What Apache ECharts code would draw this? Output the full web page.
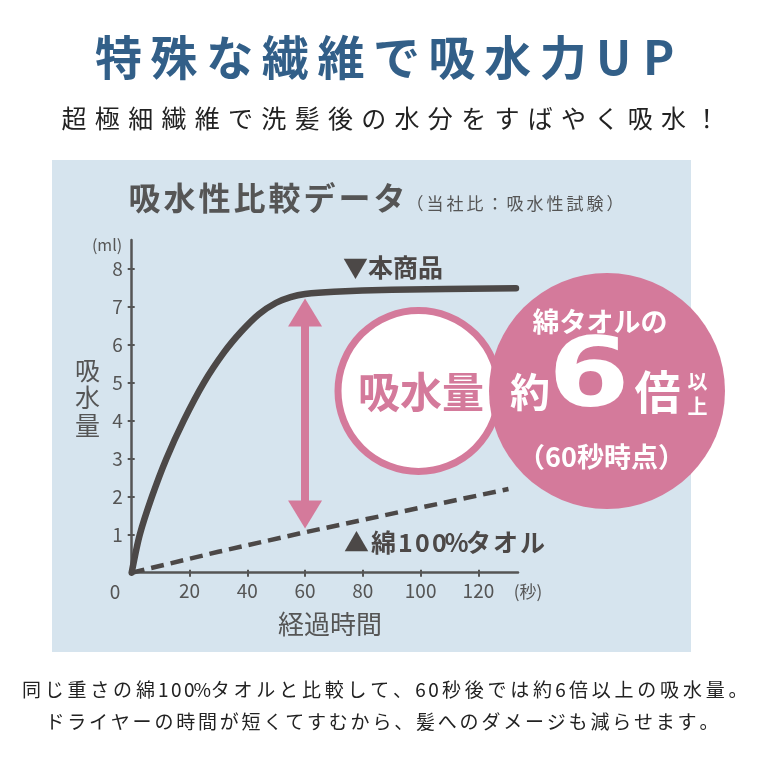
<!DOCTYPE html>
<html>
<head>
<meta charset="utf-8">
<script src="https://cdn.jsdelivr.net/npm/echarts@6.0.0/dist/echarts.min.js"></script>
<style>
  body { margin: 0; background: #fff; }
  #chart { width: 770px; height: 770px; }
</style>
</head>
<body>
<div id="chart"></div>
<script>
// 本商品 (product towel) readings, seconds / ml
var productTime = [0, 2.8, 7, 12, 18, 25, 32, 38, 44, 50, 55, 60, 70, 90, 133];
var productWater = [0, 1, 2, 3, 4, 5, 5.8, 6.35, 6.8, 7.1, 7.25, 7.33, 7.39, 7.44, 7.48];
// 綿100%タオル readings
var cottonTime = [0, 30, 58, 93, 130.4];
var cottonWater = [0, 0.55, 1.03, 1.6, 2.2];
// arrow at 60s between the two curves (shaft ends, arrow heads are added on top)
var arrowTime = 60;
var arrowFrom = 6.84;
var arrowTo = 1.53;

var xTicks = [20, 40, 60, 80, 100, 120];
var yTicks = [1, 2, 3, 4, 5, 6, 7, 8];

var FONT = "'Noto Sans CJK JP', 'Noto Sans', sans-serif";
var PINK = "#d47a9b";
var DARK = "#4c4847";
var GREY = "#555";

// each char gets a fixed box so the text can be spaced out
function spacedText(str) {
  var out = "";
  for (var i = 0; i < str.length; i++) {
    var ch = str[i];
    out += "{" + (ch.charCodeAt(0) < 0x2000 ? "h" : "f") + "|" + ch + "}";
  }
  return out;
}
function spacedRich(size, weight, color, fullW, halfW) {
  var base = { fontSize: size, fontWeight: weight, fill: color, fontFamily: FONT, align: "center" };
  return {
    f: Object.assign({ width: fullW }, base),
    h: Object.assign({ width: halfW }, base),
  };
}
function txt(str, x, y, size, weight, color, align) {
  return {
    type: "text",
    z: 20,
    style: {
      text: str, x: x, y: y,
      fontSize: size, fontWeight: weight, fontFamily: FONT,
      fill: color, align: align || "center", verticalAlign: "middle",
    },
  };
}
function spaced(str, x, y, size, weight, color, fullW, halfW) {
  return {
    type: "text",
    z: 20,
    style: {
      text: spacedText(str), x: x, y: y,
      align: "left", verticalAlign: "middle",
      fontFamily: FONT, fontSize: size,
      rich: spacedRich(size, weight, color, fullW, halfW),
    },
  };
}
function badgeText(str, x, y, size) {
  return {
    type: "text",
    z: 33,
    style: {
      text: str, x: x, y: y,
      fontSize: size, fontWeight: "bold", fontFamily: FONT,
      fill: "#fff", align: "center", verticalAlign: "middle",
    },
  };
}

var init = function () {
  var myChart = echarts.init(document.getElementById("chart"));

  var productData = productTime.map(function (t, i) { return [t, productWater[i]]; });
  var cottonData = cottonTime.map(function (t, i) { return [t, cottonWater[i]]; });

  var tickStyle = { color: GREY, width: 2 };
  var option = {
    animation: false,
    backgroundColor: "#fff",
    grid: { left: 131.7, top: 240, width: 386.3, height: 332.7, outerBoundsMode: "none" },
    xAxis: [
      {
        type: "value",
        position: "bottom",
        min: 0,
        max: 133.7,
        interval: 20,
        axisLine: { show: true, lineStyle: { color: GREY, width: 2.5 } },
        axisTick: { show: true, length: 4, customValues: xTicks, lineStyle: tickStyle },
        axisLabel: { customValues: xTicks, margin: 9, color: GREY, fontSize: 19, fontFamily: FONT },
        splitLine: { show: false },
      },
      {
        // second copy only adds the inner half of the ticks
        type: "value",
        position: "bottom",
        axisLine: { show: false, onZero: false },
        min: 0,
        max: 133.7,
        interval: 20,
        axisTick: { show: true, inside: true, length: 3, customValues: xTicks, lineStyle: tickStyle },
        axisLabel: { show: false },
        splitLine: { show: false },
      },
    ],
    yAxis: [
      {
        type: "value",
        position: "left",
        min: 0,
        max: 8.75,
        interval: 1,
        axisLine: { show: true, lineStyle: { color: GREY, width: 2.5 } },
        axisTick: { show: true, length: 4, customValues: yTicks, lineStyle: tickStyle },
        axisLabel: { customValues: yTicks, margin: 9, color: GREY, fontSize: 19, fontFamily: FONT },
        splitLine: { show: false },
      },
      {
        type: "value",
        position: "left",
        axisLine: { show: false, onZero: false },
        min: 0,
        max: 8.75,
        interval: 1,
        axisTick: { show: true, inside: true, length: 3, customValues: yTicks, lineStyle: tickStyle },
        axisLabel: { show: false },
        splitLine: { show: false },
      },
    ],
    series: [
      {
        name: "綿100%タオル",
        type: "line",
        z: 5,
        symbol: "none",
        data: cottonData,
        lineStyle: { color: DARK, width: 4.5, type: [13, 7] },
      },
      {
        name: "本商品",
        type: "line",
        z: 6,
        symbol: "none",
        smooth: 0.3,
        data: productData,
        lineStyle: { color: DARK, width: 6.5, cap: "round" },
        markLine: {
          silent: true,
          symbol: ["triangle", "triangle"],
          symbolSize: 34,
          label: { show: false },
          lineStyle: { color: PINK, width: 8, type: "solid" },
          data: [
            [
              { coord: [arrowTime, arrowFrom], symbolSize: [34, 28] },
              { coord: [arrowTime, arrowTo], symbolSize: [34, 28] },
            ],
          ],
        },
      },
    ],
    graphic: {
      elements: [
        // light blue panel behind the chart
        {
          type: "rect",
          z: -10,
          shape: { x: 52, y: 160, width: 639, height: 492 },
          style: { fill: "#d6e4ee" },
        },
        spaced("特殊な繊維で吸水力UP", 90.7, 57, 47, "bold", "#325f88", 55.6, 45),
        spaced("超極細繊維で洗髪後の水分をすばやく吸水！", 57.4, 118, 25, "normal", "#222", 33.3, 20),
        spaced("吸水性比較データ", 127, 198, 32, "bold", GREY, 35, 20),
        spaced("（当社比：吸水性試験）", 405, 204, 17, "normal", GREY, 20, 11),
        txt("▼本商品", 343, 267, 25, "bold", DARK, "left"),
        spaced("▲綿100%タオル", 343, 542, 25, "bold", DARK, 27, 17),
        txt("(ml)", 107, 245, 16, "normal", GREY),
        txt("0", 115, 592, 19, "normal", GREY),
        txt("(秒)", 528, 592, 17, "normal", GREY),
        {
          type: "text",
          z: 20,
          style: {
            text: "吸\n水\n量", x: 87.5, y: 397.5,
            fontSize: 25, fontFamily: FONT, fill: GREY, lineHeight: 27.5,
            align: "center", verticalAlign: "middle",
          },
        },
        txt("経過時間", 330, 624, 26, "normal", GREY),
        // white badge
        {
          type: "circle",
          z: 30,
          shape: { cx: 418.5, cy: 391, r: 80.5 },
          style: { fill: "#fff", stroke: PINK, lineWidth: 7 },
        },
        {
          type: "text",
          z: 31,
          style: {
            text: "吸水量", x: 421, y: 392,
            fontSize: 42, fontWeight: "bold", fontFamily: FONT,
            fill: PINK, align: "center", verticalAlign: "middle",
          },
        },
        // pink badge
        {
          type: "circle",
          z: 32,
          shape: { cx: 607, cy: 391, r: 118 },
          style: { fill: PINK },
        },
        badgeText("綿タオルの", 600, 322, 27),
        badgeText("約", 530, 392, 40),
        {
          type: "text",
          z: 33,
          x: 589,
          y: 381,
          scaleX: 1.22,
          style: {
            text: "6", x: 0, y: 0,
            fontSize: 96, fontWeight: "bold", fontFamily: "'DejaVu Sans', sans-serif",
            fill: "#fff", align: "center", verticalAlign: "middle",
          },
        },
        badgeText("倍", 657.5, 392, 46),
        badgeText("以", 697.5, 381, 20),
        badgeText("上", 697.5, 406, 20),
        badgeText("（60秒時点）", 601.5, 457, 27),
        // notes under the panel
        spaced("同じ重さの綿100%タオルと比較して、60秒後では約6倍以上の吸水量。", 20, 690, 19, "normal", "#222", 22.8, 13),
        spaced("ドライヤーの時間が短くてすむから、髪へのダメージも減らせます。", 44, 722, 19, "normal", "#222", 21.8, 14),
      ],
    },
  };
  myChart.setOption(option);
};

window.onload = init;
</script>
</body>
</html>
